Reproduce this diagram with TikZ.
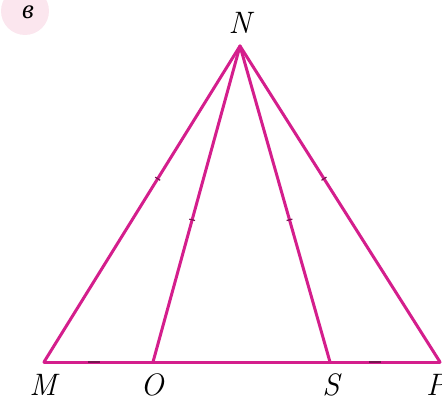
\documentclass[tikz,border=0pt]{standalone}
\usepackage{fontspec}
\usetikzlibrary{calc}
\newfontfamily\cyr{Liberation Serif}
\definecolor{mag}{RGB}{212,30,140}
\definecolor{tickc}{RGB}{120,20,80}
\definecolor{pinkbg}{RGB}{251,230,238}
\begin{document}
\begin{tikzpicture}[x=1pt,y=-1pt,
  side/.style={draw=mag,line width=3pt,line cap=round,line join=round},
  lbl/.style={font=\fontsize{31}{36}\selectfont\itshape,inner sep=0pt},
  tk/.style={draw=tickc,line width=1.2pt}]
\useasboundingbox (0,0) rectangle (442,401);
\fill[pinkbg] (25,11) circle (24);
\node[inner sep=0pt,font=\fontsize{27}{30}\selectfont\cyr\itshape] (v) at (28,12) {в};
\coordinate (N) at (240,46);
\coordinate (M) at (44,362);
\coordinate (O) at (153,362);
\coordinate (S) at (330,362);
\coordinate (P) at (440,362);
\draw[side] (M) -- (P);
\draw[side] (N) -- (M);
\draw[side] (N) -- (O);
\draw[side] (N) -- (S);
\draw[side] (N) -- (P);
% tiny tick marks
\draw[tk] ($(N)!0.42!(M)$) ++(-2.5,-1.6) -- ++(5,3.2);
\draw[tk] ($(N)!0.55!(O)$) ++(-2.9,-0.7) -- ++(5.8,1.4);
\draw[tk] ($(N)!0.55!(S)$) ++(-2.9,0.7) -- ++(5.8,-1.4);
\draw[tk] ($(N)!0.42!(P)$) ++(-2.5,1.6) -- ++(5,-3.2);
\draw[tk] (88,362) -- (100,362);
\draw[tk] (369,362) -- (381,362);
\node[lbl] (nN) at (240,23) {N};
\node[lbl] (nM) at (43,385) {M};
\node[lbl] (nO) at (152,385) {O};
\node[lbl] (nS) at (331,385) {S};
\node[lbl,anchor=west] (nP) at (426,385) {P};
\end{tikzpicture}
\end{document}
